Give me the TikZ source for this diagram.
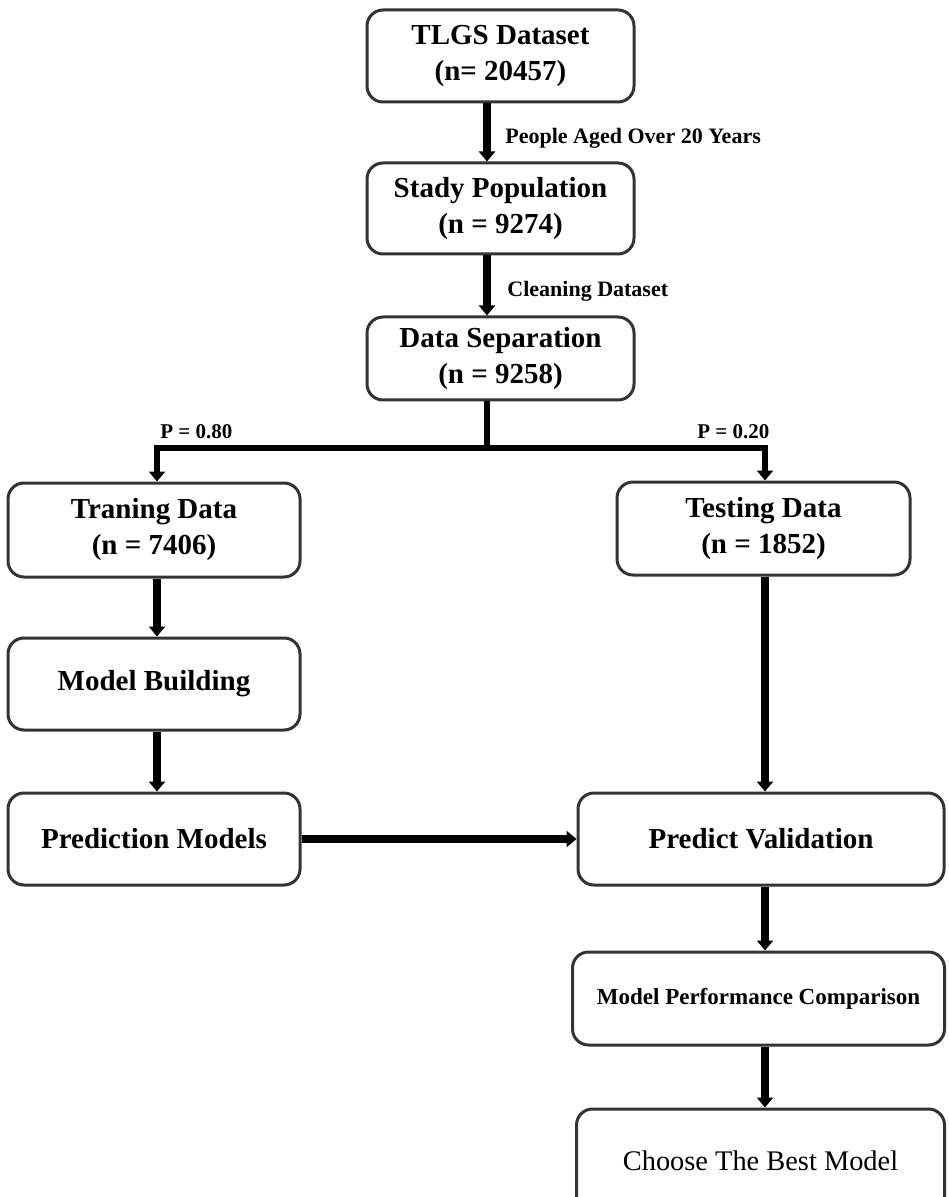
\documentclass[tikz,border=0pt]{standalone}
\usepackage{fontspec}
\setmainfont{Liberation Serif}
\usetikzlibrary{arrows.meta}

\tikzset{
  stagebox/.style={draw=black!80, line width=1.5pt, rounded corners=8pt, fill=white,
    align=center, inner sep=0pt, font=\fontsize{14.5}{18}\selectfont\bfseries},
  flow/.style={line width=4pt, -{Triangle[length=5pt,width=8pt]}},
  branch/.style={line width=3pt},
  steplabel/.style={anchor=west, inner sep=0pt, font=\fontsize{11}{13}\selectfont\bfseries},
}

\begin{document}
\begin{tikzpicture}[x=0.5pt, y=-0.5pt]
  \useasboundingbox (0,0) rectangle (948,1197);

  % Columns
  \coordinate (colA) at (487,0);
  \coordinate (colL) at (157,0);
  \coordinate (colR) at (765,0);
  \coordinate (split) at (487,448);

  % Boxes
  \node[stagebox, minimum width=133.5pt, minimum height=46pt] (tlgs) at (500.5,56) {TLGS Dataset\\(n= 20457)};
  \node[stagebox, minimum width=133.5pt, minimum height=45.5pt] (stady) at (500.5,208.5) {Stady Population\\(n = 9274)};
  \node[stagebox, minimum width=133.5pt, minimum height=41.5pt] (sep) at (500.5,358.5) {Data Separation\\(n = 9258)};
  \node[stagebox, minimum width=146pt, minimum height=47pt] (train) at (154,530) {Traning Data\\(n = 7406)};
  \node[stagebox, minimum width=146.5pt, minimum height=46.5pt] (test) at (763.5,528.5) {Testing Data\\(n = 1852)};
  \node[stagebox, minimum width=146pt, minimum height=46pt] (build) at (154,684) {Model Building};
  \node[stagebox, minimum width=146pt, minimum height=46pt] (pred) at (154,839) {Prediction Models};
  \node[stagebox, minimum width=183pt, minimum height=46pt] (valid) at (761,839) {Predict Validation};
  \node[stagebox, minimum width=186pt, minimum height=46.5pt, font=\fontsize{11.5}{14}\selectfont\bfseries] (compare) at (758.5,998.5) {Model Performance Comparison};
  \node[stagebox, minimum width=184pt, minimum height=52pt, font=\fontsize{14.2}{17}\selectfont] (best) at (760.5,1161) {Choose The Best Model};

  % Main flow
  \draw[flow] (tlgs.south -| colA) -- (stady.north -| colA);
  \draw[flow] (stady.south -| colA) -- (sep.north -| colA);
  \node[steplabel] (agelbl) at (505,138) {People Aged Over 20 Years};
  \node[steplabel] (cleanlbl) at (507,291) {Cleaning Dataset};

  % Split
  \draw[branch] (sep.south -| colA) -- (split);
  \draw[branch, -{Triangle[length=5pt,width=8pt]}] (split) -| (train.north -| colL);
  \draw[branch, -{Triangle[length=5pt,width=8pt]}] (split) -| (test.north -| colR);
  \node[steplabel, font=\fontsize{10.5}{12}\selectfont\bfseries] (ptrain) at (160,432) {P = 0.80};
  \node[steplabel, font=\fontsize{10.5}{12}\selectfont\bfseries] (ptest) at (697,432) {P = 0.20};

  % Model side
  \draw[flow] (train.south -| colL) -- (build.north -| colL);
  \draw[flow] (build.south -| colL) -- (pred.north -| colL);
  \draw[flow] (pred.east) -- (valid.west);

  % Test side
  \draw[flow] (test.south -| colR) -- (valid.north -| colR);
  \draw[flow] (valid.south -| colR) -- (compare.north -| colR);
  \draw[flow] (compare.south -| colR) -- (best.north -| colR);
\end{tikzpicture}
\end{document}
